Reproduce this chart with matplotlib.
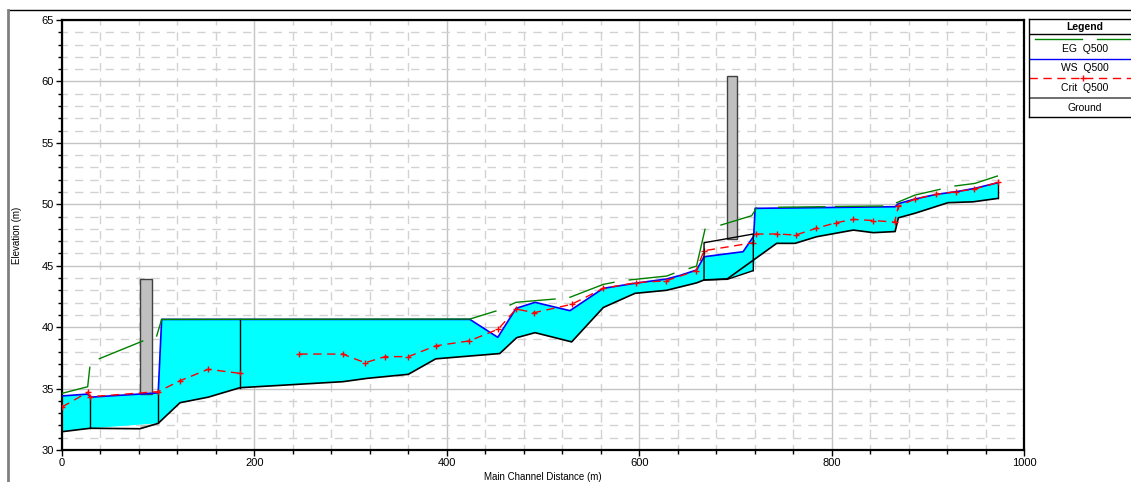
import numpy as np
import matplotlib.pyplot as plt
from matplotlib.lines import Line2D
from matplotlib.ticker import MultipleLocator

plt.rcParams['font.family'] = ['Liberation Sans', 'DejaVu Sans']

# water surface (WS Q500)
ws_x = [0, 26.7, 29.4, 100, 103.6, 424, 453, 472, 491.7, 528, 562.7, 595.6, 628.6, 642,
        659.6, 667.4, 708, 719, 720.5, 866, 869.4, 886.7, 909, 930, 949, 973]
ws_y = [34.4, 34.55, 34.3, 34.65, 40.63, 40.63, 39.17, 41.53, 42.02, 41.34, 43.16, 43.57, 43.92, 44.2,
        44.65, 45.73, 46.14, 47.4, 49.67, 49.8, 50.05, 50.43, 50.81, 51.03, 51.3, 51.76]

# bottom of the water fill
bed_x = [0, 29.4, 100, 122.7, 152, 185, 292, 317, 360, 388.5, 455, 472.6, 491.7, 529.8, 562.7,
         595.6, 628.6, 659.6, 667.4, 691.6, 718.6, 720.5, 742.9, 762, 784.5, 822.6, 843.4, 866,
         869.4, 886.7, 921, 947, 973]
bed_y = [31.49, 31.77, 32.17, 33.85, 34.3, 35.07, 35.56, 35.83, 36.16, 37.42, 37.85, 39.14, 39.55, 38.8, 41.6,
         42.75, 43.0, 43.6, 43.84, 43.93, 44.6, 45.5, 46.82, 46.82, 47.36, 47.9, 47.69, 47.78,
         48.9, 49.27, 50.13, 50.2, 50.48]

# ground
gr_x = [0, 29.4, 81, 100, 122.7, 152, 185, 292, 317, 360, 388.5, 455, 472.6, 491.7, 529.8, 562.7,
        595.6, 628.6, 659.6, 667.4, 691.6, 742.9, 762, 784.5, 822.6, 843.4, 866,
        869.4, 886.7, 921, 947, 973]
gr_y = [31.49, 31.77, 31.73, 32.17, 33.85, 34.3, 35.07, 35.56, 35.83, 36.16, 37.42, 37.85, 39.14, 39.55, 38.8, 41.6,
        42.75, 43.0, 43.6, 43.84, 43.93, 46.82, 46.82, 47.36, 47.9, 47.69, 47.78,
        48.9, 49.27, 50.13, 50.2, 50.48]

# critical depth (Crit Q500)
crit_x = [0, 26.7, 29.4, 100, 122.7, 152, 185, np.nan, 246.7, 291.7, 315, 335.8, 360, 388.5, 423.4,
          453.5, 472, 491, 529.8, 562.7, 596.7, 628, 659, 667.4, 718.6, 721.4, 743.6, 762.7,
          783.8, 804.6, 822.6, 843.4, 865.5, 869.4, 886.7, 909, 929.5, 948.5, 973]
crit_y = [33.5, 34.7, 34.34, 34.75, 35.64, 36.57, 36.24, np.nan, 37.81, 37.81, 37.1, 37.6, 37.6, 38.48, 38.88,
          39.84, 41.47, 41.18, 41.86, 43.16, 43.62, 43.77, 44.59, 46.22, 46.87, 47.58, 47.58, 47.5,
          48.04, 48.5, 48.77, 48.68, 48.55, 49.83, 50.43, 50.81, 51.03, 51.24, 51.78]

# energy grade (EG Q500), broken into pieces
eg_x = [0, 26.7, 28.9, np.nan, 38.8, 83.9, np.nan, 98.4, 103.6, 424, 451, np.nan,
        465.7, 471.9, 512.5, np.nan, 528, 562.7, 573.8, np.nan, 589.7, 628.6, 636, np.nan,
        652, 659.6, 668.4, np.nan, 685, 716.9, 722, np.nan, 745, 793, np.nan, 804, 853, np.nan,
        867.6, 886.7, 912.7, np.nan, 928.3, 949, 972.3]
eg_y = [34.61, 35.15, 36.73, np.nan, 37.43, 38.87, np.nan, 39.28, 40.63, 40.66, 41.31, np.nan,
        41.8, 42.02, 42.29, np.nan, 42.43, 43.48, 43.65, np.nan, 43.84, 44.16, 44.38, np.nan,
        44.78, 44.97, 47.96, np.nan, 48.31, 49.07, 49.7, np.nan, 49.76, 49.8, np.nan, 49.82, 49.86, np.nan,
        50.13, 50.75, 51.22, np.nan, 51.49, 51.7, 52.3]

# structures
section_lines = [29.4, 100, 185, 973]
culvert_x = [81, 93.9]
culvert_top = 43.92
bridge_x = [667.4, 718.6]
bridge_top = [46.87, 47.58]
bridge_low = [43.84, 44.6]
pier_x = [691, 702]
pier_top = 60.47

fig = plt.figure(figsize=(11.31, 4.82), dpi=100)
ax = fig.add_axes([62/1131, 32/482, 962/1131, 430/482])

# water fill
ax.fill(ws_x + bed_x[::-1], ws_y + bed_y[::-1], color='#00ffff', lw=0, zorder=2)

# gray sliver under culvert
xs = np.linspace(culvert_x[0], 100, 10)
ax.fill_between(xs, np.interp(xs, gr_x, gr_y), np.interp(xs, bed_x, bed_y),
                color='#c0c0c0', lw=0, zorder=2)
# culvert block
cb = np.interp(culvert_x[0], ws_x, ws_y)
ax.fill([culvert_x[0], culvert_x[1], culvert_x[1], culvert_x[0]], [cb, cb, culvert_top, culvert_top],
        facecolor='#c0c0c0', edgecolor='#404040', lw=1, zorder=3)

# pier above bridge
pb = np.interp(pier_x[0], bridge_x, bridge_top)
ax.fill([pier_x[0], pier_x[1], pier_x[1], pier_x[0]], [pb, pb, pier_top, pier_top],
        facecolor='#c0c0c0', edgecolor='#404040', lw=1, zorder=3)
# bridge outline
ax.plot([bridge_x[0], bridge_x[0], bridge_x[1], bridge_x[1]],
        [bridge_low[0], bridge_top[0], bridge_top[1], bridge_low[1]], color='black', lw=1, zorder=7)
ax.plot([bridge_x[0], 691.6, bridge_x[1]], [bridge_low[0], 43.89, bridge_low[1]], color='black', lw=1, zorder=7)

# section lines
for sx in section_lines:
    ax.plot([sx, sx], [np.interp(sx, bed_x, bed_y), np.interp(sx, ws_x, ws_y)], color='black', lw=1, zorder=4)

ax.plot(gr_x, gr_y, color='black', lw=1.2, zorder=4)
ax.plot(ws_x, ws_y, color='#0000ff', lw=1.2, zorder=5)
ax.plot(crit_x, crit_y, color='#ff0000', lw=1, ls=(0, (6, 4)), marker='+', ms=5, mew=1, zorder=6)
ax.plot(eg_x, eg_y, color='#008000', lw=1, zorder=6)

ax.set_xlim(0, 1000)
ax.set_ylim(30, 65)
ax.xaxis.set_major_locator(MultipleLocator(200))
ax.xaxis.set_minor_locator(MultipleLocator(40))
ax.yaxis.set_major_locator(MultipleLocator(5))
ax.yaxis.set_minor_locator(MultipleLocator(1))
ax.grid(which='major', color='#c4c4c4', lw=1, ls='-', zorder=0)
ax.grid(which='minor', color='#d2d2d2', lw=1, ls=(2, (6, 5)), zorder=0)
ax.set_axisbelow(True)
ax.tick_params(which='major', length=4, width=1, labelsize=8, pad=2)
ax.tick_params(which='minor', length=3, width=1)
for s in ax.spines.values():
    s.set_linewidth(1.6)
ax.set_xlabel('Main Channel Distance (m)', fontsize=7, labelpad=3)
ax.set_ylabel('Elevation (m)', fontsize=7, labelpad=14)

# frame lines
fig.add_artist(Line2D([8/1131, 1], [472/482, 472/482], color='black', lw=1))
fig.add_artist(Line2D([8/1131, 8/1131], [0, 472/482], color='#808080', lw=2))

# legend box
lg = fig.add_axes([1029/1131, 365/482, 111/1131, 98/482])
lg.set_xlim(1029, 1140)
lg.set_ylim(117, 19)
lg.set_xticks([])
lg.set_yticks([])
for s in lg.spines.values():
    s.set_linewidth(1)
lg.plot([1029, 1140], [34, 34], color='black', lw=1)
lg.text(1085, 26.5, 'Legend', ha='center', va='center', fontsize=7.5, fontweight='bold')
lg.plot([1035, 1082], [39.3, 39.3], color='#008000', lw=1)
lg.plot([1097, 1140], [39.3, 39.3], color='#008000', lw=1)
lg.text(1085, 49.3, 'EG  Q500', ha='center', va='center', fontsize=7.5)
lg.plot([1029, 1140], [59, 59], color='#0000ff', lw=1)
lg.text(1085, 68.3, 'WS  Q500', ha='center', va='center', fontsize=7.5)
lg.plot([1029, 1140], [78.3, 78.3], color='#ff0000', lw=1, ls=(0, (6, 4)))
lg.plot([1083], [78.3], color='#ff0000', marker='+', ms=5)
lg.text(1085, 87.7, 'Crit  Q500', ha='center', va='center', fontsize=7.5)
lg.plot([1029, 1140], [98.3, 98.3], color='#555555', lw=1.2)
lg.text(1085, 107.7, 'Ground', ha='center', va='center', fontsize=7.5)

fig.savefig('out.png', dpi=100)
